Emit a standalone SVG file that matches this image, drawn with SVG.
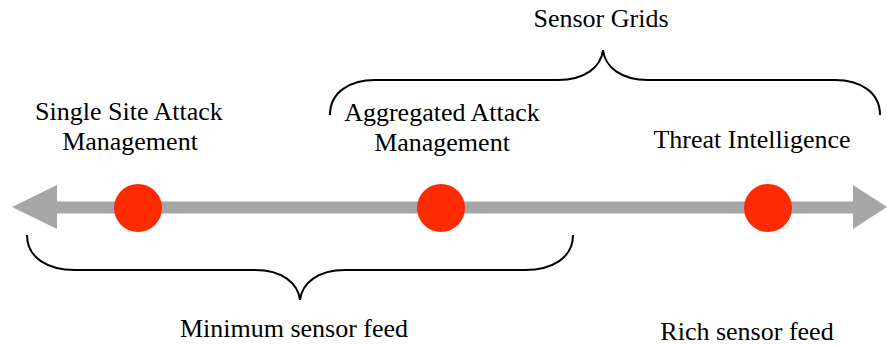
<svg xmlns="http://www.w3.org/2000/svg" width="887" height="345" viewBox="0 0 887 345">
<style>
text{font-family:"Liberation Serif","Times New Roman",serif;font-size:26px;fill:#000;text-anchor:middle}
.brace{fill:none;stroke:#000;stroke-width:2}
.dot{fill:#FF2A00}
.axis{fill:#A6A6A6}
</style>
<rect width="887" height="345" fill="#fff"/>
<g id="connectors">
<polygon class="axis" points="12,207 57,185 57,201.5 853,201.5 853,185 887,207 853,229 853,213.5 57,213.5 57,229"/>
<path id="brace-sensor-grids" class="brace" d="M330,115 C330,92 350,80 375,80 L558,80 C585,80 601,67 603,50 C605,67 621,80 648,80 L835,80 C860,80 880,92 880,115"/>
<path id="brace-min-feed" class="brace" d="M27,235 C27,258 48,270 75,270 L255,270 C282,270 298,283 300,300 C302,283 318,270 345,270 L525,270 C552,270 573,258 573,235"/>
</g>
<g id="node-single-site">
<circle class="dot" cx="138" cy="208" r="24"/>
<text x="129" y="120">Single Site Attack</text>
<text x="130" y="150">Management</text>
</g>
<g id="node-aggregated">
<circle class="dot" cx="441" cy="208" r="24"/>
<text x="442" y="121">Aggregated Attack</text>
<text x="442" y="151">Management</text>
</g>
<g id="node-threat-intel">
<circle class="dot" cx="768" cy="208" r="24"/>
<text x="752" y="148">Threat Intelligence</text>
</g>
<g id="label-sensor-grids"><text x="601" y="27">Sensor Grids</text></g>
<g id="label-min-feed"><text x="294" y="337">Minimum sensor feed</text></g>
<g id="label-rich-feed"><text x="747" y="340">Rich sensor feed</text></g>
</svg>
